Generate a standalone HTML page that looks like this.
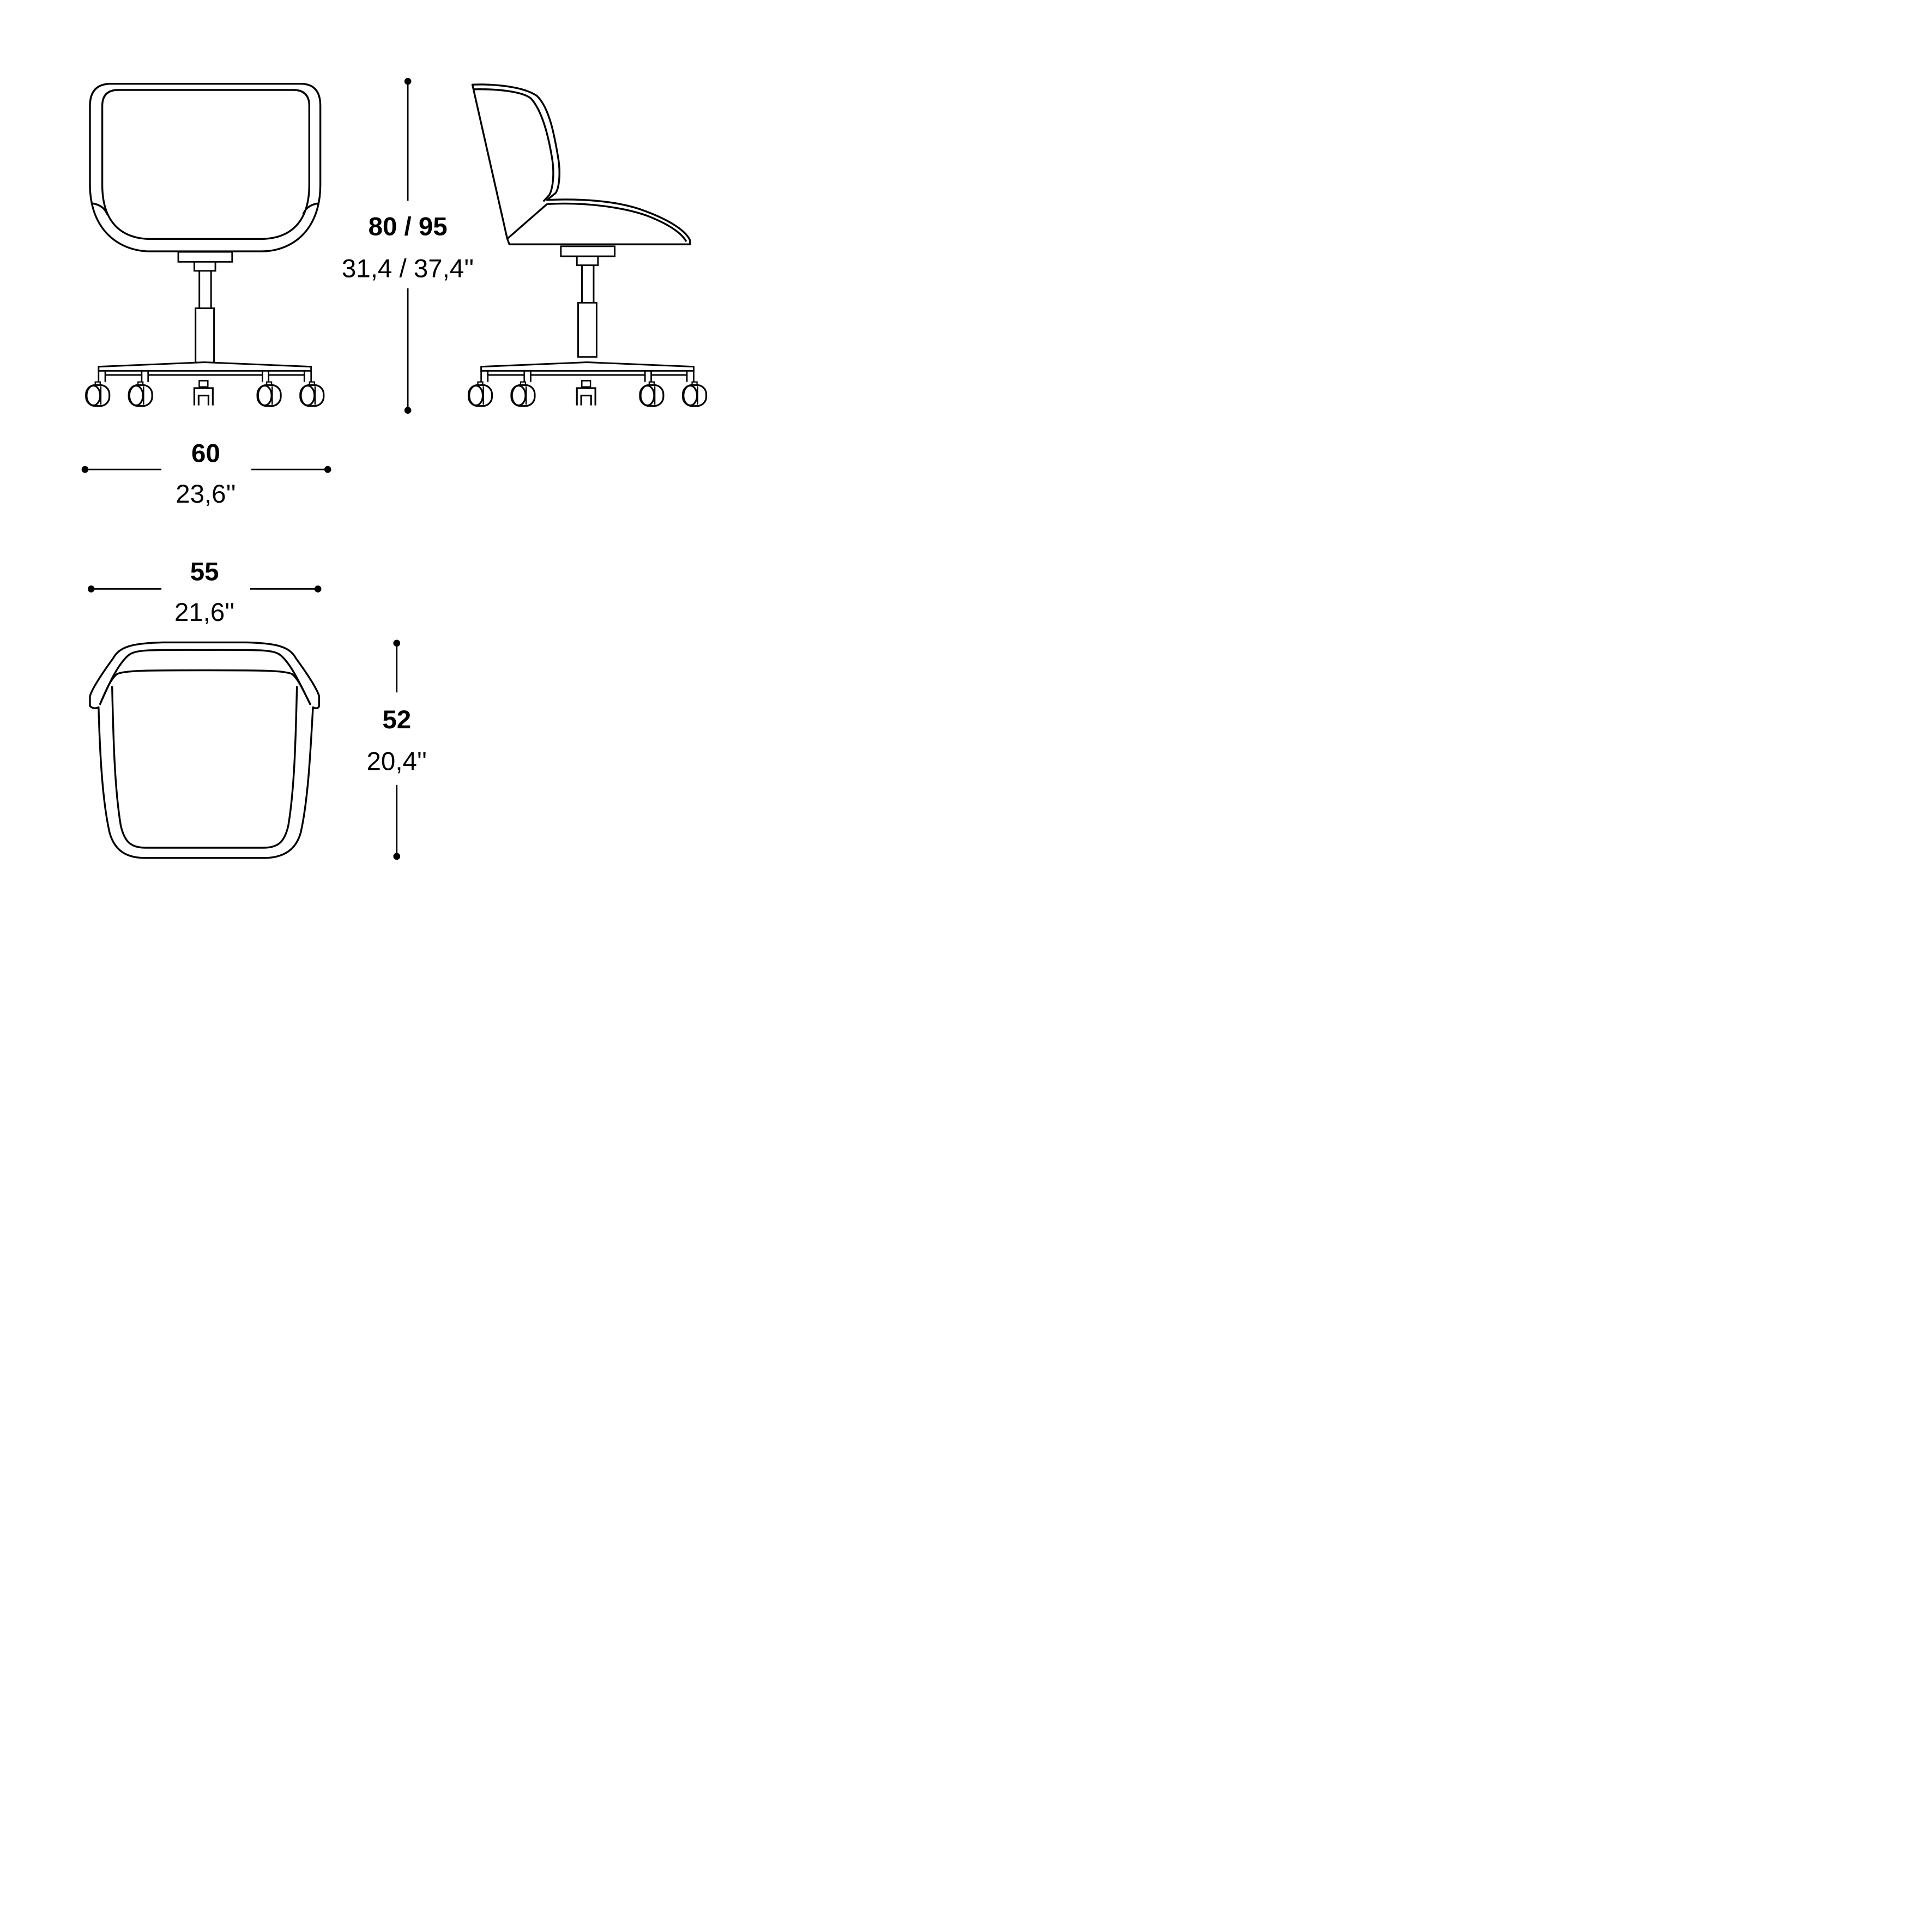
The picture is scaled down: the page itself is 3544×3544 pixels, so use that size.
<!DOCTYPE html>
<html><head><meta charset="utf-8"><style>html,body{margin:0;padding:0;background:#fff}svg{display:block}</style></head>
<body>
<svg width="3544" height="3544" viewBox="0 0 1568 1568" xmlns="http://www.w3.org/2000/svg">
<defs>
<g id="caster">
  <path d="M-2,310 h4 v3.5 h-4z" fill="#fff" stroke="#000" stroke-width="1"/>
  <rect x="-9.5" y="312.5" width="19" height="17" rx="7.5" fill="#fff" stroke="#000" stroke-width="1.4"/>
  <ellipse cx="-3.5" cy="321" rx="5.5" ry="8" fill="#fff" stroke="#000" stroke-width="1.4"/>
  <line x1="2.5" y1="313.5" x2="2.5" y2="328.5" stroke="#000" stroke-width="1.1"/>
</g>
<g id="casterMid">
  <rect x="-3.5" y="309" width="7" height="5" fill="#fff" stroke="#000" stroke-width="1.1"/>
  <path d="M-7.5,329 V315 H7.5 V329 M-4,329 V321 H4 V329" fill="#fff" stroke="#000" stroke-width="1.4"/>
</g>
<g id="base">
  <path d="M80,297.6 L166,294 L252.5,297.6 V301 H80Z" fill="#fff" stroke="#000" stroke-width="1.3"/>
  <path d="M80,301 V310 M85.4,301 V310 M115,301 V310 M120.2,301 V310 M213,301 V310 M218,301 V310 M247,301 V310 M252.5,301 V310 M85.4,304.3 H115 M120.2,304.3 H213 M218,304.3 H247" fill="none" stroke="#000" stroke-width="1.2"/>
  <use href="#caster" x="79.3"/>
  <use href="#caster" x="114"/>
  <use href="#casterMid" x="165.2"/>
  <use href="#caster" x="218.4"/>
  <use href="#caster" x="253.2"/>
</g>
<g id="mech">
  <path d="M158.7,250.2 H173.7 V294.2 H158.7Z M161.8,219.8 H171.3 V250.2 H161.8Z M157.7,212.5 H174.8 V219.8 H157.7Z M144.7,204.4 H188.4 V212.5 H144.7Z" fill="#fff" stroke="#000" stroke-width="1.3"/>
</g>
</defs>

<g fill="none" stroke="#000" stroke-width="1.5" stroke-linejoin="round">
  <path d="M90,68 L244,68 Q260,68 260,86 L260,150 C260,186 238,204 212,204 L122,204 C96,204 73,186 73,150 L73,86 Q73,68 90,68 Z"/>
  <path d="M96,73 L238,73 Q251,73 251,86 L251,150 C251,180 236,194 211,194 L123,194 C98,194 83,180 83,150 L83,86 Q83,73 96,73 Z"/>
  <path d="M74,165 Q84,166 87,174"/>
  <path d="M259,165 Q249,166 246,174"/>
</g>
<use href="#mech"/>
<use href="#base"/>

<g fill="#fff" stroke="#000" stroke-width="1.5" stroke-linejoin="round">
  <path d="M383.4,68.7 C400,68 425,70 436,78 C446,88 450,110 453,128 C455,140 454,152 451,156.6 L444,162.3 C470,161 500,163 520,170 C540,177 556,186 560,195 L560,198.3 L413.4,198.3 L411.7,193.8 Z"/>
  <path d="M384,72.5 C402,72 424,74 431,80 C440,90 445,110 448,128 C450,140 449,152 446,158 L441,163.5" fill="none"/>
  <path d="M444,165.6 C475,164 505,168 525,175 C543,182 553,189 557,196" fill="none"/>
  <path d="M444,165.6 L411.7,193.8" fill="none"/>
</g>
<use href="#mech" transform="translate(310.5,-4.5)"/>
<use href="#base" transform="translate(310.5,0)"/>

<g fill="none" stroke="#000" stroke-width="1.5" stroke-linejoin="round">
  <path d="M166,521.4 L200,521.4 C225,522 235,525 240,534 C248,545 257,558 259,565 L259,573 Q258,576 254,574 C252,610 250,650 244,676 C240,690 230,696 215,696.3 L117,696.3 C102,696 93,690 89,676 C83,650 81,610 80,574 Q76,576 73,573 L73,565 C75,558 84,545 92,534 C97,525 107,522 132,521.4 Z"/>
  <path d="M81,572 C88,556 95,540 104,532 C110,527 120,527.5 166,527.5 C212,527.5 222,527 228,532 C237,540 244,556 252,572"/>
  <path d="M81,572 C86,560 90,551 95,547 C102,544 120,544 166,544 C212,544 230,544 237,547 C242,551 246,560 252,572"/>
  <path d="M91,557 C92,600 93,640 98,670 C101,683 106,688 118,688 L214,688 C226,688 231,683 234,670 C239,640 240,600 241,557"/>
</g>

<g stroke="#000" stroke-width="1.2" fill="#000">
  <line x1="331" y1="66" x2="331" y2="163"/><line x1="331" y1="234" x2="331" y2="333"/>
  <circle cx="331" cy="66" r="2.2"/><circle cx="331" cy="333" r="2.2"/>
  <line x1="69" y1="381" x2="131" y2="381"/><line x1="204" y1="381" x2="266" y2="381"/>
  <circle cx="69" cy="381" r="2.2"/><circle cx="266" cy="381" r="2.2"/>
  <line x1="74" y1="478" x2="131" y2="478"/><line x1="203" y1="478" x2="258" y2="478"/>
  <circle cx="74" cy="478" r="2.2"/><circle cx="258" cy="478" r="2.2"/>
  <line x1="322" y1="522" x2="322" y2="562"/><line x1="322" y1="637" x2="322" y2="695"/>
  <circle cx="322" cy="522" r="2.2"/><circle cx="322" cy="695" r="2.2"/>
</g>
<g font-family="'Liberation Sans', sans-serif" font-size="21" text-anchor="middle" fill="#000">
  <text x="331" y="191" font-weight="bold">80 / 95</text>
  <text x="331" y="225">31,4 / 37,4''</text>
  <text x="167" y="375" font-weight="bold">60</text>
  <text x="167" y="408">23,6''</text>
  <text x="166" y="471" font-weight="bold">55</text>
  <text x="166" y="504">21,6''</text>
  <text x="322" y="591" font-weight="bold">52</text>
  <text x="322" y="625">20,4''</text>
</g>
</svg>
</body></html>
